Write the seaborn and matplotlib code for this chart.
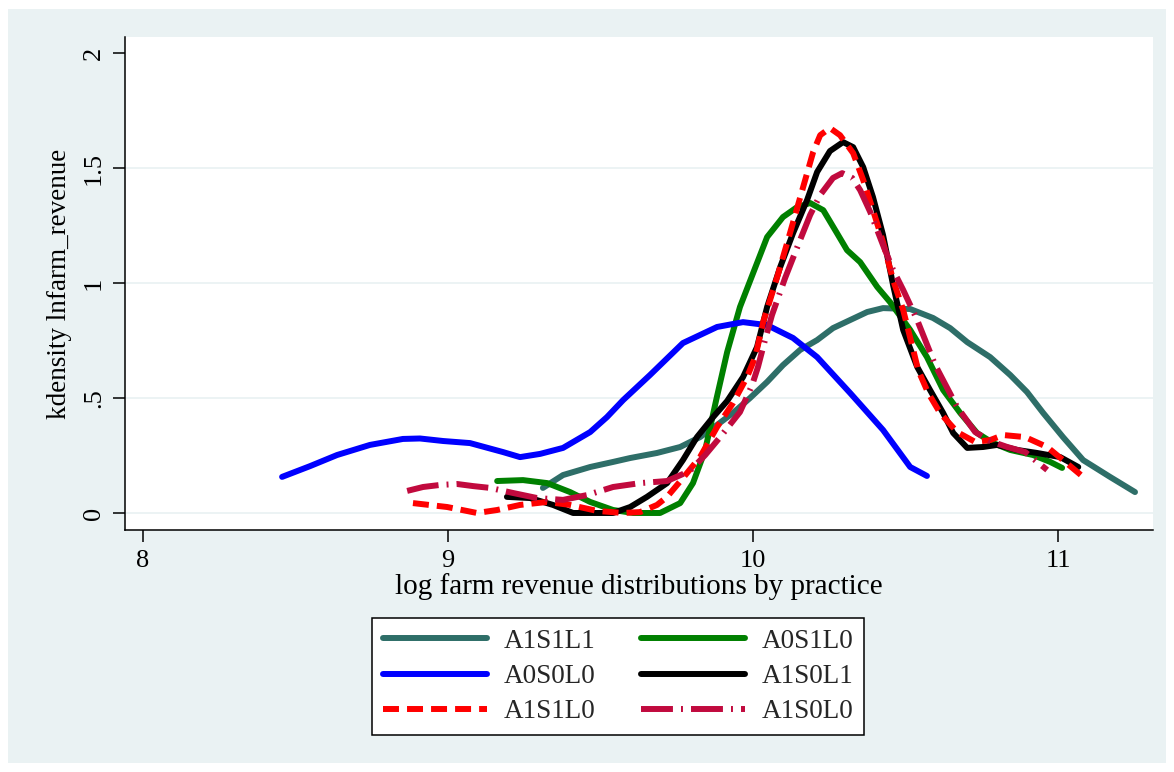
import matplotlib
matplotlib.use("Agg")
import matplotlib.pyplot as plt
from matplotlib.patches import Rectangle
import seaborn as sns

# Kernel density estimates of log farm revenue, one curve per practice
a1s1l1_x = [9.311, 9.377, 9.466, 9.541, 9.597, 9.685, 9.761, 9.826, 9.882, 9.934,
            9.990, 10.046, 10.098, 10.154, 10.210, 10.262, 10.318, 10.374, 10.426,
            10.515, 10.590, 10.646, 10.702, 10.777, 10.843, 10.898, 10.951, 11.016,
            11.082, 11.170, 11.252]
a1s1l1_y = [0.109, 0.165, 0.200, 0.222, 0.239, 0.261, 0.287, 0.330, 0.383, 0.435,
            0.500, 0.570, 0.643, 0.709, 0.752, 0.804, 0.839, 0.874, 0.891,
            0.887, 0.848, 0.804, 0.743, 0.678, 0.600, 0.526, 0.435, 0.330,
            0.230, 0.157, 0.091]

a0s1l0_x = [9.161, 9.246, 9.325, 9.400, 9.466, 9.541, 9.607, 9.695, 9.761, 9.803,
            9.843, 9.879, 9.915, 9.957, 10.000, 10.046, 10.098, 10.144, 10.187,
            10.230, 10.275, 10.308, 10.351, 10.407, 10.449, 10.515, 10.570, 10.623,
            10.679, 10.734, 10.787, 10.843, 10.918, 10.974, 11.013]
a0s1l0_y = [0.139, 0.143, 0.130, 0.091, 0.048, 0.013, 0.000, 0.000, 0.043, 0.130,
            0.274, 0.491, 0.700, 0.896, 1.043, 1.200, 1.287, 1.330, 1.348,
            1.317, 1.217, 1.143, 1.091, 0.983, 0.917, 0.796, 0.678, 0.535,
            0.435, 0.348, 0.304, 0.274, 0.252, 0.222, 0.196]

a0s0l0_x = [8.456, 8.548, 8.636, 8.744, 8.852, 8.908, 8.984, 9.072, 9.180, 9.236,
            9.302, 9.377, 9.466, 9.521, 9.574, 9.662, 9.770, 9.882, 9.967, 10.046,
            10.131, 10.210, 10.318, 10.426, 10.515, 10.570]
a0s0l0_y = [0.157, 0.204, 0.252, 0.296, 0.322, 0.324, 0.313, 0.304, 0.265, 0.243,
            0.257, 0.283, 0.352, 0.417, 0.491, 0.600, 0.739, 0.809, 0.830, 0.817,
            0.761, 0.678, 0.522, 0.361, 0.200, 0.161]

a1s0l1_x = [9.193, 9.269, 9.344, 9.410, 9.541, 9.597, 9.652, 9.718, 9.770, 9.816,
            9.869, 9.915, 9.967, 10.013, 10.046, 10.089, 10.131, 10.177, 10.210,
            10.252, 10.295, 10.328, 10.361, 10.393, 10.426, 10.459, 10.492, 10.538,
            10.580, 10.623, 10.656, 10.702, 10.754, 10.800, 10.866, 10.931, 11.007,
            11.066]
a1s0l1_y = [0.070, 0.065, 0.035, 0.000, 0.000, 0.026, 0.070, 0.130, 0.230, 0.330,
            0.417, 0.487, 0.591, 0.722, 0.896, 1.070, 1.217, 1.361, 1.483,
            1.574, 1.613, 1.591, 1.504, 1.374, 1.209, 0.991, 0.796, 0.635,
            0.535, 0.435, 0.348, 0.283, 0.287, 0.296, 0.274, 0.261, 0.243,
            0.200]

a1s1l0_x = [8.885, 8.997, 9.095, 9.161, 9.236, 9.325, 9.400, 9.489, 9.574, 9.630,
            9.685, 9.718, 9.770, 9.826, 9.882, 9.934, 9.980, 10.007, 10.033, 10.079,
            10.121, 10.164, 10.197, 10.220, 10.252, 10.285, 10.328, 10.361, 10.393,
            10.426, 10.459, 10.492, 10.525, 10.541, 10.574, 10.613, 10.669, 10.728,
            10.777, 10.820, 10.892, 10.964, 11.016, 11.082]
a1s1l0_y = [0.043, 0.026, 0.000, 0.013, 0.035, 0.048, 0.035, 0.009, 0.000, 0.004,
            0.035, 0.070, 0.152, 0.243, 0.374, 0.478, 0.591, 0.678, 0.830, 1.026,
            1.217, 1.417, 1.570, 1.643, 1.674, 1.643, 1.565, 1.448, 1.317,
            1.178, 1.013, 0.883, 0.709, 0.622, 0.522, 0.435, 0.352, 0.309,
            0.317, 0.339, 0.330, 0.287, 0.230, 0.157]

a1s0l0_x = [8.866, 8.918, 8.974, 9.030, 9.082, 9.138, 9.213, 9.292, 9.377, 9.456,
            9.541, 9.630, 9.718, 9.793, 9.843, 9.892, 9.957, 9.997, 10.016, 10.039,
            10.062, 10.105, 10.154, 10.187, 10.220, 10.262, 10.292, 10.325, 10.351,
            10.384, 10.426, 10.459, 10.492, 10.538, 10.597, 10.669, 10.728, 10.777,
            10.833, 10.892, 10.964]
a1s0l0_y = [0.096, 0.113, 0.122, 0.126, 0.117, 0.109, 0.087, 0.065, 0.057, 0.078,
            0.113, 0.130, 0.139, 0.183, 0.252, 0.330, 0.439, 0.557, 0.635, 0.752,
            0.861, 1.022, 1.187, 1.296, 1.383, 1.457, 1.478, 1.457, 1.404,
            1.309, 1.165, 1.057, 0.970, 0.839, 0.643, 0.461, 0.352, 0.313,
            0.287, 0.265, 0.187]

x_ticks = [8, 9, 10, 11]
y_ticks = [0, 0.5, 1, 1.5, 2]
y_tick_labels = ["0", ".5", "1", "1.5", "2"]

series = [
    ("A1S1L1", a1s1l1_x, a1s1l1_y, "#2E6E68", None),
    ("A0S1L0", a0s1l0_x, a0s1l0_y, "#008000", None),
    ("A0S0L0", a0s0l0_x, a0s0l0_y, "#0000FF", None),
    ("A1S0L1", a1s0l1_x, a1s0l1_y, "#000000", None),
    ("A1S1L0", a1s1l0_x, a1s1l0_y, "#FF0000", (11.5, 5.8)),
    ("A1S0L0", a1s0l0_x, a1s0l0_y, "#C10A3E", (23, 5.8, 1.4, 5.8)),
]

sns.set_theme(style="white")
plt.rcParams["font.family"] = ["Liberation Serif", "DejaVu Serif"]
plt.rcParams["lines.scale_dashes"] = False

W, H = 1174, 772
fig = plt.figure(figsize=(W / 100, H / 100), dpi=100, facecolor="white")
fig.patches.append(Rectangle((8 / W, 9 / H), (1166 - 8) / W, (763 - 9) / H,
                             transform=fig.transFigure, facecolor="#EAF2F3",
                             edgecolor="none", zorder=-10))

ax = fig.add_axes([125 / W, (H - 530) / H, (1153 - 125) / W, (530 - 37) / H])
ax.set_facecolor("white")

LW = 4.3
handles = {}
for name, xs, ys, color, dash in series:
    sns.lineplot(x=xs, y=ys, ax=ax, color=color, linewidth=LW, sort=False,
                 estimator=None, legend=False)
    line = ax.lines[-1]
    line.set_solid_capstyle("round")
    line.set_solid_joinstyle("round")
    if dash is not None:
        line.set_dashes(dash)
        line.set_dash_capstyle("butt")
    handles[name] = line

ax.set_xlim(7.941, 11.311)
ax.set_ylim(-0.074, 2.07)

for g in [0, 0.5, 1, 1.5]:
    ax.axhline(g, color="#EAF2F3", linewidth=1.3, zorder=0)

ax.set_xticks(x_ticks)
ax.set_xticklabels([str(t) for t in x_ticks])
ax.set_yticks(y_ticks)
ax.set_yticklabels(y_tick_labels, rotation=90, va="center")
ax.tick_params(axis="both", which="major", direction="out", length=8.5, width=1.1,
               color="black", labelsize=19, labelcolor="black", left=True, bottom=True)
ax.tick_params(axis="x", pad=6)
ax.tick_params(axis="y", pad=6)

for side in ["top", "right"]:
    ax.spines[side].set_visible(False)
for side in ["left", "bottom"]:
    ax.spines[side].set_color("black")
    ax.spines[side].set_linewidth(1.1)

ax.set_xlabel("log farm revenue distributions by practice", fontsize=21,
              color="black", labelpad=1)
ax.set_ylabel("kdensity lnfarm_revenue", fontsize=19.5, color="black", labelpad=8)

order = ["A1S1L1", "A0S0L0", "A1S1L0", "A0S1L0", "A1S0L1", "A1S0L0"]
leg = fig.legend([handles[n] for n in order], order, ncol=2, loc="upper left",
                 bbox_to_anchor=(372 / W, 1 - 618 / H), frameon=True, fontsize=19.5,
                 handlelength=3.85, handletextpad=0.6, columnspacing=1.7,
                 labelspacing=0.38, borderpad=0.4, borderaxespad=0, fancybox=False,
                 edgecolor="black", framealpha=1, facecolor="white")
leg.get_frame().set_linewidth(1.1)

fig.savefig("out.png", dpi=100, facecolor=fig.get_facecolor())
